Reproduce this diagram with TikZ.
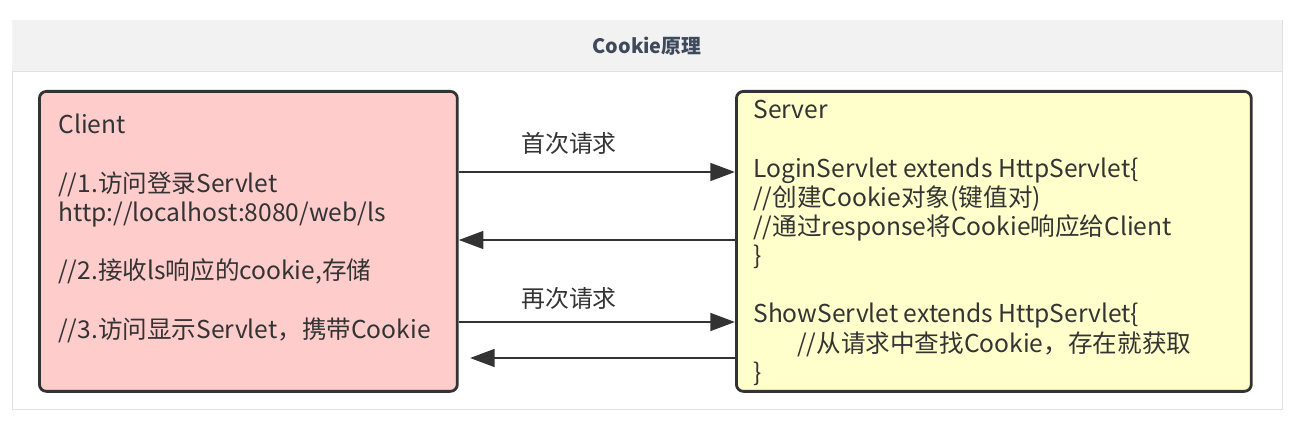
\documentclass[tikz,border=0pt]{standalone}
\usepackage{fontspec}
\setmainfont{Noto Sans CJK SC}
\usepackage{xcolor}
\usetikzlibrary{arrows.meta, positioning, calc}

\definecolor{clientpink}{HTML}{FFCCCC}
\definecolor{serveryellow}{HTML}{FFFFCC}
\definecolor{inkgray}{HTML}{333333}
\definecolor{framegray}{HTML}{E2E2E2}
\definecolor{bandgray}{HTML}{F2F2F2}
\definecolor{titleslate}{HTML}{3E4A5B}

\begin{document}
\begin{tikzpicture}[x=0.02cm, y=-0.02cm,
	box/.style={draw=inkgray, line width=1.6pt, rounded corners=4pt, anchor=north west, inner sep=0pt},
	code/.style={anchor=north west, align=left, inner sep=0pt, text=inkgray, font=\fontsize{14}{16.6}\selectfont},
	msg/.style={draw=inkgray, line width=1.6pt, -{Triangle[length=14pt,width=10pt]}},
	reqlabel/.style={text=inkgray, font=\fontsize{13.6}{16.6}\selectfont}]
	\useasboundingbox (0,0) rectangle (1306,446);
	% outer frame and title band
	\draw[framegray, fill=white] (12,20) rectangle (1282,409);
	\fill[bandgray] (12,20) rectangle (1282,71);
	\draw[framegray] (12,71) -- (1282,71);
	\node[text=titleslate, font=\fontsize{11.3}{13}\selectfont\bfseries] (title) at (647,46) {Cookie原理};
	% Client
	\node[box, fill=clientpink, minimum width=8.36cm, minimum height=6cm] (client) at (38,90) {};
	\node[code] (clienttext) at (58,114) {Client\\[16.6pt]
		//1.访问登录Servlet\\
		http://localhost:8080/web/ls\\[16.6pt]
		//2.接收ls响应的cookie,存储\\[16.6pt]
		//3.访问显示Servlet，携带Cookie};
	% Server
	\node[box, fill=serveryellow, minimum width=10.3cm, minimum height=6cm] (server) at (735,90) {};
	\node[code] (servertext) at (753,100) {Server\\[16.6pt]
		LoginServlet extends HttpServlet\{\\
		//创建Cookie对象(键值对)\\
		//通过response将Cookie响应给Client\\
		\}\\[16.6pt]
		ShowServlet extends HttpServlet\{\\
		\hspace*{25pt}//从请求中查找Cookie，存在就获取\\
		\}};
	% requests and responses
	\node[reqlabel] (firstreq) at (569,143) {首次请求};
	\node[reqlabel] (againreq) at (569,298) {再次请求};
	\coordinate (showback) at (470,358);
	\draw[msg] (client.east |- 0,172) -- (server.west |- 0,172);
	\draw[msg] (server.west |- 0,240) -- (client.east |- 0,240);
	\draw[msg] (client.east |- 0,322) -- (server.west |- 0,322);
	\draw[msg] (server.west |- showback) -- (showback);
\end{tikzpicture}
\end{document}
